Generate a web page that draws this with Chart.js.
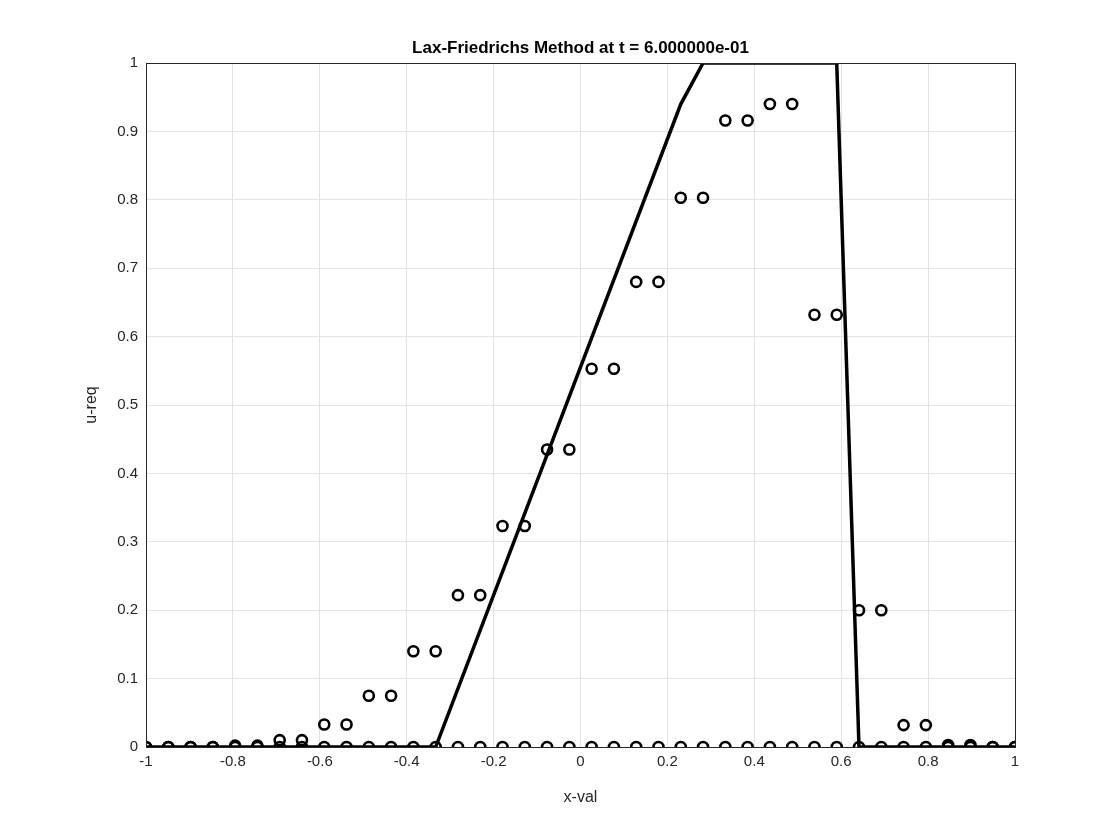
<!DOCTYPE html>
<html>
<head>
<meta charset="utf-8">
<script src="https://cdn.jsdelivr.net/npm/chart.js@4"></script>
<style>
  body { margin: 0; background: #fff; }
  #wrap { width: 1120px; height: 840px; }
</style>
</head>
<body>
<div id="wrap"><canvas id="chart"></canvas></div>
<script>
// grid x_i = -1 + i*2/39, i = 0..39
const xCount = 40;
const uNum = [0, 0, 0, 0, 0.002, 0.002, 0.01, 0.01, 0.033, 0.033,
    0.075, 0.075, 0.14, 0.14, 0.222, 0.222, 0.323, 0.323, 0.435, 0.435,
    0.553, 0.553, 0.68, 0.68, 0.803, 0.803, 0.916, 0.916, 0.94, 0.94,
    0.632, 0.632, 0.2, 0.2, 0.032, 0.032, 0.003, 0.003, 0, 0];
const uZero = new Array(xCount).fill(0);
const exactX = [-1, -0.3333, 0.2308, 0.2821, 0.5897, 0.6410, 1];
const exactY = [0, 0, 0.94, 1, 1, 0, 0];
const xTicks = [-1, -0.8, -0.6, -0.4, -0.2, 0, 0.2, 0.4, 0.6, 0.8, 1];
const titleText = 'Lax-Friedrichs Method at t = 6.000000e-01';

const xs = [];
for (let i = 0; i < xCount; i++) xs.push(-1 + i * 2 / (xCount - 1));

const circleStyle = {
    showLine: false,
    pointStyle: 'circle',
    pointRadius: 5,
    pointBorderWidth: 2.6,
    pointBorderColor: '#000',
    pointBackgroundColor: 'rgba(0,0,0,0)'
};

// box round the axes and a title centred over the plot area
const boxPlugin = {
    id: 'box',
    afterDraw(c) {
        const a = c.chartArea, ctx = c.ctx;
        ctx.save();
        ctx.strokeStyle = '#262626';
        ctx.lineWidth = 1;
        ctx.strokeRect(a.left + 0.5, a.top + 0.5, a.right - a.left, a.bottom - a.top);
        ctx.fillStyle = '#000';
        ctx.font = 'bold 17px "Liberation Sans", Arial';
        ctx.textAlign = 'center';
        ctx.textBaseline = 'bottom';
        ctx.fillText(titleText, (a.left + a.right) / 2, a.top - 6);
        ctx.restore();
    }
};

new Chart(document.getElementById('chart'), {
    type: 'scatter',
    data: {
        datasets: [
            Object.assign({ data: xs.map((x, i) => ({ x: x, y: uZero[i] })) }, circleStyle),
            Object.assign({ data: xs.map((x, i) => ({ x: x, y: uNum[i] })) }, circleStyle),
            {
                data: exactX.map((x, i) => ({ x: x, y: exactY[i] })),
                showLine: true,
                borderColor: '#000',
                borderWidth: 3.5,
                pointRadius: 0,
                tension: 0
            }
        ]
    },
    options: {
        responsive: true,
        maintainAspectRatio: false,
        animation: false,
        layout: { padding: { right: 105, top: 63, left: 82, bottom: 33 } },
        plugins: {
            legend: { display: false },
            tooltip: { enabled: false },
            title: { display: false }
        },
        scales: {
            x: {
                type: 'linear',
                min: -1, max: 1,
                afterBuildTicks: s => { s.ticks = xTicks.map(v => ({ value: v })); },
                afterFit: s => { s.height = 60; },
                grid: { color: '#e3e3e3', drawTicks: false },
                border: { color: '#262626' },
                ticks: {
                    color: '#262626', padding: 6,
                    font: { family: 'Liberation Sans, Arial', size: 15 },
                    callback: v => String(Math.round(v * 10) / 10)
                },
                title: {
                    display: true, text: 'x-val', color: '#262626', padding: 0,
                    font: { family: 'Liberation Sans, Arial', size: 16 }
                }
            },
            y: {
                min: 0, max: 1,
                afterFit: s => { s.width = 64; },
                grid: { color: '#e3e3e3', drawTicks: false },
                border: { color: '#262626' },
                ticks: {
                    stepSize: 0.1, color: '#262626', padding: 8,
                    font: { family: 'Liberation Sans, Arial', size: 15 },
                    callback: v => String(Math.round(v * 10) / 10)
                },
                title: {
                    display: true, text: 'u-req', color: '#262626', padding: 0,
                    font: { family: 'Liberation Sans, Arial', size: 16 }
                }
            }
        }
    },
    plugins: [boxPlugin]
});
</script>
</body>
</html>
